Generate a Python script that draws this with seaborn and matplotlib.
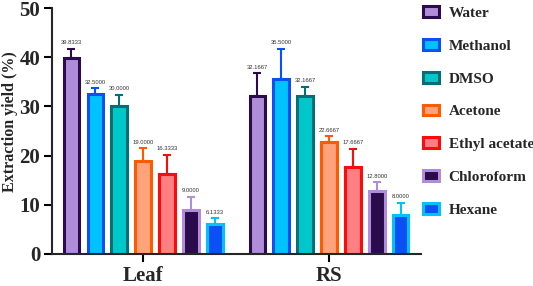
import numpy as np
import pandas as pd
import seaborn as sns
import matplotlib.pyplot as plt
from matplotlib.font_manager import FontProperties

# data
solvents = ['Water', 'Methanol', 'DMSO', 'Acetone', 'Ethyl acetate', 'Chloroform', 'Hexane']
parts = ['Leaf', 'RS']
leaf_vals = [39.8333, 32.5, 30.0, 19.0, 16.3333, 9.0, 6.1333]
rs_vals = [32.1667, 35.5, 32.1667, 22.6667, 17.6667, 12.8, 8.0]
leaf_err = [1.9, 1.2, 2.4, 2.5, 3.8, 2.6, 1.1]
rs_err = [4.6, 6.2, 1.8, 1.3, 3.7, 1.8, 2.4]

fill_colors = ['#B08DD9', '#00C2FF', '#00C8CA', '#FFA37C', '#FF8082', '#2B0B4C', '#0A50F5']
edge_colors = ['#2B0B4C', '#0A50F5', '#006F78', '#FF5A00', '#FF0A0A', '#B08DD9', '#00C2FF']

df = pd.DataFrame({
    'Part': ['Leaf'] * 7 + ['RS'] * 7,
    'Solvent': solvents * 2,
    'Yield': leaf_vals + rs_vals,
})
errs = {'Leaf': leaf_err, 'RS': rs_err}

sns.set_style('ticks')
plt.rcParams['font.family'] = ['Liberation Serif', 'DejaVu Serif']

fig = plt.figure(figsize=(5.33, 2.86), dpi=100)
ax = fig.add_axes([0.0976, 0.112, 0.6923, 0.86])

sns.barplot(data=df, x='Part', y='Yield', hue='Solvent', hue_order=solvents,
            palette=fill_colors, saturation=1, width=0.9, gap=0.35, errorbar=None,
            linewidth=2.2, legend=False, ax=ax)

bar_conts = list(ax.containers)
for i, cont in enumerate(bar_conts):
    for j, bar in enumerate(cont.patches):
        bar.set_edgecolor(edge_colors[i])
        x = bar.get_x() + bar.get_width() / 2
        h = bar.get_height()
        e = errs[parts[j]][i]
        ax.errorbar(x, h, yerr=[[0], [e]], ecolor=edge_colors[i], elinewidth=1.5,
                    capsize=3, capthick=1.5, fmt='none', zorder=1)
        ax.annotate(f'{h:.4f}', (x, h + e), xytext=(0, 2.5), textcoords='offset points',
                    ha='center', va='bottom', fontsize=4.2, color='#333333',
                    family='Liberation Sans')

ax.set_ylim(0, 50)
ax.set_xlim(-0.49, 1.495)
ax.set_yticks([0, 10, 20, 30, 40, 50])
ax.set_xlabel('')
ax.set_ylabel('Extraction yield (%)', fontsize=11.5, fontweight='bold')
ax.yaxis.set_label_coords(-0.093, 0.537)
for lab in ax.get_yticklabels() + ax.get_xticklabels():
    lab.set_fontweight('bold')
    lab.set_fontsize(15)
ax.tick_params(axis='both', width=1.5, length=6, color='black')
ax.tick_params(axis='y', pad=2.5)
ax.tick_params(axis='x', pad=3)
for s in ['left', 'bottom']:
    ax.spines[s].set_linewidth(1.5)
sns.despine(ax=ax)

handles = [cont.patches[0] for cont in bar_conts]
leg = ax.legend(handles, solvents, loc='upper left', bbox_to_anchor=(0.793, 0.978),
                bbox_transform=fig.transFigure, frameon=False, handlelength=1.1,
                handleheight=0.7, handletextpad=0.6, labelspacing=1.25,
                borderpad=0, borderaxespad=0,
                prop=FontProperties(family='Liberation Serif', weight='bold', size=11))

fig.savefig('out.png', dpi=100)
